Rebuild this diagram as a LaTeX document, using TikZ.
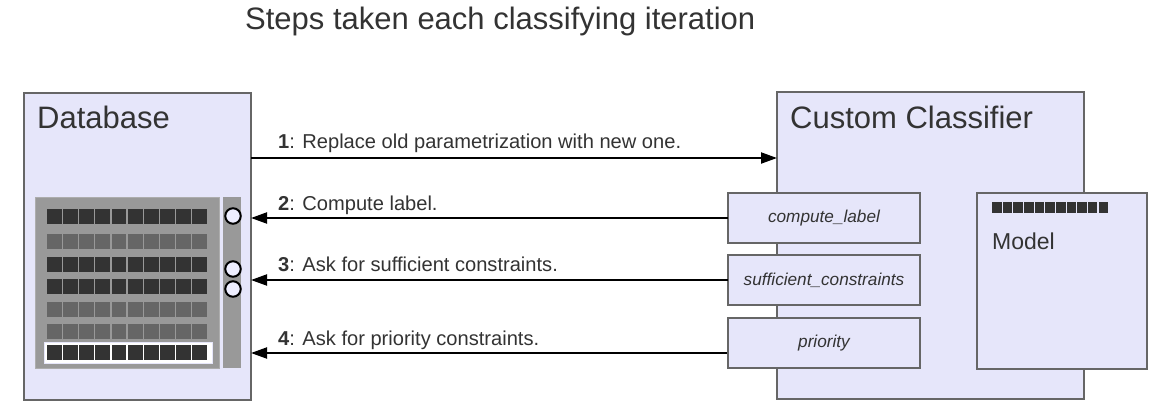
\documentclass[tikz,border=0pt]{standalone}
\usepackage{fontspec}
\setmainfont{Liberation Sans}
\usetikzlibrary{arrows.meta}
\definecolor{lav}{HTML}{E6E6FA}
\definecolor{bord}{HTML}{666666}
\definecolor{txt}{HTML}{333333}
\definecolor{dk}{HTML}{333333}
\definecolor{md}{HTML}{666666}
\definecolor{pn}{HTML}{999999}
\definecolor{circfill}{HTML}{EEEEFF}
\tikzset{
  box/.style={draw=bord, fill=lav, line width=1.5pt, inner sep=0pt, outer sep=0pt, anchor=north west},
  methbox/.style={box, minimum width=192, minimum height=50, font=\fontsize{17.2}{20}\selectfont\itshape, text=txt},
  hdr/.style={anchor=base west, inner sep=0pt, text=txt, font=\fontsize{31}{36}\selectfont},
  lbl/.style={anchor=base west, inner sep=0pt, text=txt, font=\fontsize{20.1}{24}\selectfont},
  msg/.style={line width=2pt, -{Triangle[length=16pt,width=11pt]}},
  port/.style={circle, draw=black, fill=circfill, line width=2pt, minimum size=15.5, inner sep=0pt},
}
\begin{document}
\begin{tikzpicture}[x=1pt,y=-1pt]
\useasboundingbox[fill=white] (0,0) rectangle (1166,416);
% title
\node[hdr] (title) at (245,29) {Steps taken each classifying iteration};
% database
\node[box, minimum width=227, minimum height=307] (db) at (24,93) {};
\node[hdr] (dbt) at (37,128) {Database};
\node[fill=pn, draw=pn!80!white, line width=0.6pt, anchor=north west, minimum width=184, minimum height=171, inner sep=0pt] (panel) at (35,197) {};
\node[fill=pn, anchor=north west, minimum width=18, minimum height=171, inner sep=0pt] (side) at (223,197) {};
\node[fill=white, draw=lav, line width=1pt, anchor=north west, minimum width=168, minimum height=21, inner sep=0pt] (hl) at (44,342) {};
\foreach \y/\c in {209/dk,234/md,257/dk,279/dk,302/md,324/md,345/dk}{
  \foreach \i in {0,...,9}{
    \fill[\c] ({47+\i*16.15},\y) rectangle ++(14.8,15);
  }
}
\node[port] (p1) at (233,216) {};
\node[port] (p2) at (233,269) {};
\node[port] (p3) at (233,289) {};
% classifier
\node[box, minimum width=307, minimum height=307] (cc) at (777,92) {};
\node[hdr] (cct) at (790,128) {Custom Classifier};
\node[methbox] (cl) at (728,193) {compute\_label};
\node[methbox] (sc) at (728,255) {sufficient\_constraints};
\node[methbox] (pr) at (728,318) {priority};
\node[box, minimum width=170, minimum height=176] (model) at (977,193) {};
\foreach \i in {0,...,10}{
  \fill[dk] ({992+\i*10.65},202) rectangle ++(9.6,11);
}
\node[hdr, font=\fontsize{23}{27}\selectfont] (mt) at (992,249) {Model};
% messages
\coordinate (a1) at (251,158);
\coordinate (a4) at (727,353);
\draw[msg] (a1) -- (a1 -| cc.west);
\draw[msg] (cl.west) -- (cl.west -| db.east);
\draw[msg] (sc.west) -- (sc.west -| db.east);
\draw[msg] (a4) -- (a4 -| db.east);
\node[lbl] (l1) at (278,148) {\textbf{1}: Replace old parametrization with new one.};
\node[lbl] (l2) at (278,210) {\textbf{2}: Compute label.};
\node[lbl] (l3) at (278,271) {\textbf{3}: Ask for sufficient constraints.};
\node[lbl] (l4) at (278,345) {\textbf{4}: Ask for priority constraints.};
\end{tikzpicture}
\end{document}
